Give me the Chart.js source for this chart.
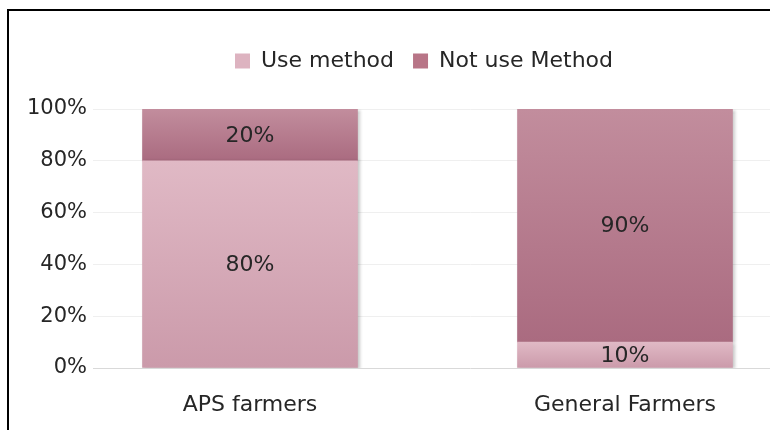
<!DOCTYPE html>
<html>
<head>
<meta charset="utf-8">
<script src="https://cdn.jsdelivr.net/npm/chart.js@4"></script>
<style>
  html, body { margin:0; padding:0; background:#fff; overflow:hidden; width:770px; height:430px; }
  #wrap { position:absolute; left:0; top:0; width:848px; height:430px; }
  #frame { position:absolute; left:7px; top:9px; width:900px; height:500px;
           border-top:2px solid #000; border-left:2px solid #000; pointer-events:none; }
</style>
</head>
<body>
<div id="wrap"><canvas id="c" width="848" height="430"></canvas></div>
<div id="frame"></div>
<script>
const categories = ['APS farmers', 'General Farmers'];
const seriesNames = ['Use method', 'Not use Method'];
const useMethod = [80, 10];
const notUseMethod = [20, 90];
const yTicks = [0, 20, 40, 60, 80, 100];

const FONT = "'DejaVu Sans'";
const gradStops = {
  use: ['#e0b9c5', '#cb9aaa'],
  notUse: ['#c28d9d', '#aa6b80']
};
const legendColors = ['#ddb3c0', '#b87587'];

function segGradient(stops, bottomArr, topArr) {
  return function(ctx) {
    const chart = ctx.chart;
    const y = chart.scales.y;
    if (!chart.chartArea || !y || ctx.dataIndex === undefined) return stops[0];
    const i = ctx.dataIndex;
    const yTop = y.getPixelForValue(topArr[i]);
    const yBot = y.getPixelForValue(bottomArr[i]);
    if (!isFinite(yTop) || !isFinite(yBot) || yTop === yBot) return stops[0];
    const g = chart.ctx.createLinearGradient(0, yTop, 0, yBot);
    g.addColorStop(0, stops[0]);
    g.addColorStop(1, stops[1]);
    return g;
  };
}
const zeros = useMethod.map(() => 0);
const useTop = useMethod.slice();
const notUseTop = useMethod.map((v, i) => v + notUseMethod[i]);

const legendSpace = {
  id: 'legendSpace',
  beforeInit(chart) {
    const lg = chart.legend;
    if (!lg) return;
    const orig = lg.fit;
    lg.fit = function() { orig.call(this); this.height += 27; };
  }
};
const labelPlugin = {
  id: 'segLabels',
  afterDatasetsDraw(chart) {
    const c = chart.ctx;
    c.save();
    c.font = '22px ' + FONT;
    c.fillStyle = '#262626';
    c.textAlign = 'center';
    c.textBaseline = 'middle';
    const sets = [useMethod, notUseMethod];
    chart.data.datasets.forEach((ds, di) => {
      const meta = chart.getDatasetMeta(di);
      meta.data.forEach((el, i) => {
        c.fillText(sets[di][i] + '%', el.x, (el.y + el.base) / 2 + 1);
      });
    });
    c.restore();
  }
};
const shadowPlugin = {
  id: 'barShadow',
  beforeDatasetsDraw(chart) {
    const c = chart.ctx;
    c.save();
    c.shadowColor = 'rgba(0,0,0,0.22)';
    c.shadowBlur = 3;
    c.shadowOffsetX = 2;
    c.shadowOffsetY = 1;
  },
  afterDatasetsDraw(chart) {
    chart.ctx.restore();
  }
};

new Chart(document.getElementById('c'), {
  type: 'bar',
  data: {
    datasets: [
      { label: seriesNames[0], data: useMethod.map((v, i) => ({ x: i, y: v })),
        backgroundColor: segGradient(gradStops.use, zeros, useTop),
        barThickness: 215, borderWidth: 0 },
      { label: seriesNames[1], data: notUseMethod.map((v, i) => ({ x: i, y: v })),
        backgroundColor: segGradient(gradStops.notUse, useTop, notUseTop),
        barThickness: 215, borderWidth: 0 }
    ]
  },
  options: {
    responsive: false,
    animation: false,
    layout: { padding: { left: 0, right: 0, top: 31, bottom: 0 } },
    plugins: {
      tooltip: { enabled: false },
      legend: {
        position: 'top',
        labels: {
          font: { family: FONT, size: 22 },
          color: '#262626',
          boxWidth: 15, boxHeight: 15,
          padding: 19,
          generateLabels(chart) {
            return chart.data.datasets.map((ds, i) => ({
              text: ds.label, fillStyle: legendColors[i], strokeStyle: legendColors[i],
              lineWidth: 0, hidden: false, datasetIndex: i, fontColor: '#262626'
            }));
          }
        }
      }
    },
    scales: {
      x: {
        type: 'linear',
        stacked: true,
        offset: false,
        min: -0.4187,
        max: 1.5947,
        afterBuildTicks(axis) { axis.ticks = categories.map((c, i) => ({ value: i })); },
        afterFit(axis) { axis.height = 62; },
        ticks: {
          callback: (v) => categories[v] ?? '',
          font: { family: FONT, size: 22 },
          color: '#262626',
          padding: 24,
          autoSkip: false,
          maxRotation: 0
        },
        grid: { display: false, drawTicks: false, offset: false },
        border: { display: false }
      },
      y: {
        stacked: true,
        min: 0,
        max: 100,
        afterBuildTicks(axis) { axis.ticks = yTicks.map(v => ({ value: v })); },
        afterFit(axis) { axis.width = 93; },
        ticks: {
          callback: (v) => v + '%',
          font: { family: FONT, size: 21 },
          color: '#262626',
          padding: 6
        },
        grid: {
          drawTicks: false,
          color: (ctx) => ctx.tick && ctx.tick.value === 0 ? '#d9d9d9' : '#efefef',
          lineWidth: 1
        },
        border: { display: false }
      }
    }
  },
  plugins: [legendSpace, shadowPlugin, labelPlugin]
});
</script>
</body>
</html>
